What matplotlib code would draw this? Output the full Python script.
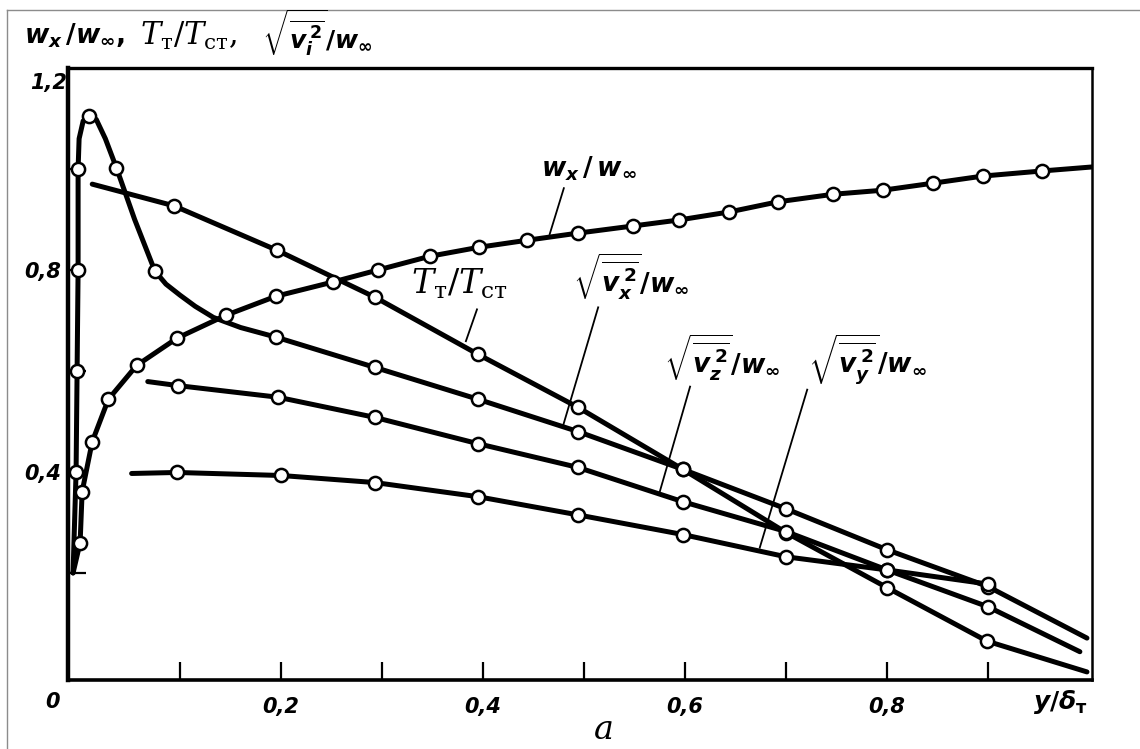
import matplotlib.pyplot as plt
from matplotlib.lines import Line2D

plt.rcParams['mathtext.fontset'] = 'custom'
plt.rcParams['mathtext.it'] = 'DejaVu Sans:italic:bold'
plt.rcParams['mathtext.rm'] = 'DejaVu Sans:bold'
plt.rcParams['mathtext.bf'] = 'DejaVu Sans:bold'

# mean velocity w_x/w_inf: line and measured points
wx_line_x = [-0.006, 0.001, 0.003, 0.013, 0.029, 0.057, 0.097, 0.145, 0.195, 0.251, 0.296, 0.347,
             0.396, 0.444, 0.494, 0.548, 0.594, 0.644, 0.692, 0.747, 0.796, 0.846, 0.895, 0.953, 1.003]
wx_line_y = [0.20, 0.26, 0.361, 0.46, 0.544, 0.611, 0.665, 0.710, 0.748, 0.776, 0.80, 0.827,
             0.845, 0.859, 0.873, 0.887, 0.899, 0.915, 0.935, 0.95, 0.958, 0.972, 0.986, 0.996, 1.004]
wx_pts_x = wx_line_x[1:-1]
wx_pts_y = wx_line_y[1:-1]

# temperature T_t/T_st
tt_line_x = [0.013, 0.094, 0.196, 0.293, 0.395, 0.494, 0.598, 0.70, 0.80, 0.899, 0.998]
tt_line_y = [0.970, 0.927, 0.839, 0.746, 0.633, 0.528, 0.405, 0.28, 0.171, 0.065, 0.004]
tt_pts_x = tt_line_x[1:-1]
tt_pts_y = tt_line_y[1:-1]

# longitudinal fluctuations sqrt(vx^2)/w_inf
vx_line_x = [-0.006, -0.003, -0.002, -0.001, -0.001, 0.000, 0.004, 0.010, 0.017, 0.026, 0.037,
             0.055, 0.075, 0.086, 0.100, 0.115, 0.133, 0.160, 0.195, 0.293, 0.395, 0.494,
             0.598, 0.70, 0.80, 0.90, 0.998]
vx_line_y = [0.20, 0.40, 0.60, 0.80, 1.00, 1.06, 1.095, 1.105, 1.098, 1.06, 1.002,
             0.90, 0.798, 0.772, 0.750, 0.728, 0.706, 0.686, 0.667, 0.607, 0.544, 0.48,
             0.405, 0.327, 0.246, 0.173, 0.071]
vx_pts_x = [-0.003, -0.002, -0.001, -0.001, 0.010, 0.037, 0.075,
            0.195, 0.293, 0.395, 0.494, 0.598, 0.70, 0.80, 0.90]
vx_pts_y = [0.40, 0.60, 0.80, 1.00, 1.105, 1.002, 0.798,
            0.667, 0.607, 0.544, 0.48, 0.405, 0.327, 0.246, 0.173]

# transverse fluctuations sqrt(vz^2)/w_inf
vz_line_x = [0.068, 0.098, 0.197, 0.293, 0.395, 0.494, 0.598, 0.70, 0.80, 0.90, 0.991]
vz_line_y = [0.579, 0.571, 0.548, 0.508, 0.456, 0.409, 0.341, 0.282, 0.206, 0.133, 0.044]
vz_pts_x = vz_line_x[1:-1]
vz_pts_y = vz_line_y[1:-1]

# normal fluctuations sqrt(vy^2)/w_inf
vy_line_x = [0.052, 0.097, 0.20, 0.293, 0.395, 0.494, 0.598, 0.70, 0.80, 0.90]
vy_line_y = [0.397, 0.399, 0.393, 0.379, 0.351, 0.315, 0.276, 0.232, 0.206, 0.178]
vy_pts_x = vy_line_x[1:]
vy_pts_y = vy_line_y[1:]

x_ticks = [0.1, 0.2, 0.3, 0.4, 0.5, 0.6, 0.7, 0.8, 0.9]
x_tick_labels = ['', '0,2', '', '0,4', '', '0,6', '', '0,8', '']
y_ticks = [0.2, 0.4, 0.6, 0.8, 1.0]
y_tick_labels = ['', '0,4', '', '0,8', '']

fig = plt.figure(figsize=(11.4, 7.49), dpi=100)
ax = fig.add_axes([68 / 1140, 1 - 680 / 749, 1024 / 1140, 612 / 749])
ax.set_xlim(-0.011, 1.003)
ax.set_ylim(-0.012, 1.2)

line_kw = dict(color='black', lw=3.6, solid_capstyle='round', solid_joinstyle='round', zorder=3)
mark_kw = dict(ls='none', marker='o', ms=9.5, mfc='white', mec='black', mew=1.8, zorder=5)

for lx, ly, px, py in [(wx_line_x, wx_line_y, wx_pts_x, wx_pts_y),
                       (tt_line_x, tt_line_y, tt_pts_x, tt_pts_y),
                       (vx_line_x, vx_line_y, vx_pts_x, vx_pts_y),
                       (vz_line_x, vz_line_y, vz_pts_x, vz_pts_y),
                       (vy_line_x, vy_line_y, vy_pts_x, vy_pts_y)]:
    ax.plot(lx, ly, **line_kw)
    ax.plot(px, py, **mark_kw)

# frame
for side, w in [('left', 3.2), ('bottom', 2.6), ('top', 2.4), ('right', 1.8)]:
    ax.spines[side].set_linewidth(w)

ax.set_xticks(x_ticks)
ax.set_xticklabels(x_tick_labels)
ax.set_yticks(y_ticks)
ax.set_yticklabels(y_tick_labels)
tick_font = dict(fontsize=15, fontweight='bold', fontstyle='italic')
ax.tick_params(direction='in', length=13, width=1.6)
ax.tick_params(axis='x', pad=12)
ax.tick_params(axis='y', pad=5)
for lab in ax.get_xticklabels() + ax.get_yticklabels():
    lab.set_fontsize(15)
    lab.set_fontweight('bold')
    lab.set_fontstyle('italic')

ax.text(-0.026, -0.055, '0', ha='center', va='center', **tick_font)
ax.text(-0.03, 1.17, '1,2', ha='center', va='center', **tick_font)
ax.text(0.972, -0.055, r'$y/\delta_{\rm т}$', ha='center', va='center', fontsize=18)
ax.text(0.52, -0.112, 'а', ha='center', va='center', fontsize=24, fontstyle='italic',
        family='DejaVu Serif', clip_on=False)

# top axis title
fig.text(24 / 1140, 1 - 36 / 749,
         r'$w_x\,/w_\infty,\ $',
         ha='left', va='center', fontsize=19)
fig.text(140 / 1140, 1 - 36 / 749,
         r'$T_{\rm т}/T_{\rm ст},$',
         ha='left', va='center', fontsize=22, math_fontfamily='dejavuserif')
fig.text(262 / 1140, 1 - 33 / 749,
         r'$\sqrt{\overline{v_i^{\,2}}}/w_\infty$',
         ha='left', va='center', fontsize=18)

# curve captions with leader lines
ax.text(0.505, 1.0, r'$w_x\,/\,w_\infty$', ha='center', va='center', fontsize=19)
ax.plot([0.48, 0.466], [0.962, 0.871], color='black', lw=1.3)

ax.text(0.377, 0.772, r'$T_{\rm т}/T_{\rm ст}$', ha='center', va='center', fontsize=24,
        math_fontfamily='dejavuserif')
ax.plot([0.394, 0.383], [0.722, 0.659], color='black', lw=1.3)

ax.text(0.547, 0.786, r'$\sqrt{\overline{v_x^{\,2}}}/w_\infty$', ha='center', va='center', fontsize=19)
ax.plot([0.514, 0.479], [0.726, 0.49], color='black', lw=1.3)

ax.text(0.637, 0.627, r'$\sqrt{\overline{v_z^{\,2}}}/w_\infty$', ha='center', va='center', fontsize=19)
ax.plot([0.605, 0.575], [0.569, 0.361], color='black', lw=1.3)

ax.text(0.781, 0.623, r'$\sqrt{\overline{v_y^{\,2}}}/w_\infty$', ha='center', va='center', fontsize=19)
ax.plot([0.721, 0.674], [0.563, 0.25], color='black', lw=1.3)

# thin border of the sheet
fig.add_artist(Line2D([7 / 1140, 7 / 1140], [0, 1 - 10 / 749], transform=fig.transFigure,
                      color='0.55', lw=1.0))
fig.add_artist(Line2D([7 / 1140, 1], [1 - 10 / 749, 1 - 10 / 749], transform=fig.transFigure,
                      color='0.55', lw=1.0))

fig.savefig('out.png', dpi=100)
